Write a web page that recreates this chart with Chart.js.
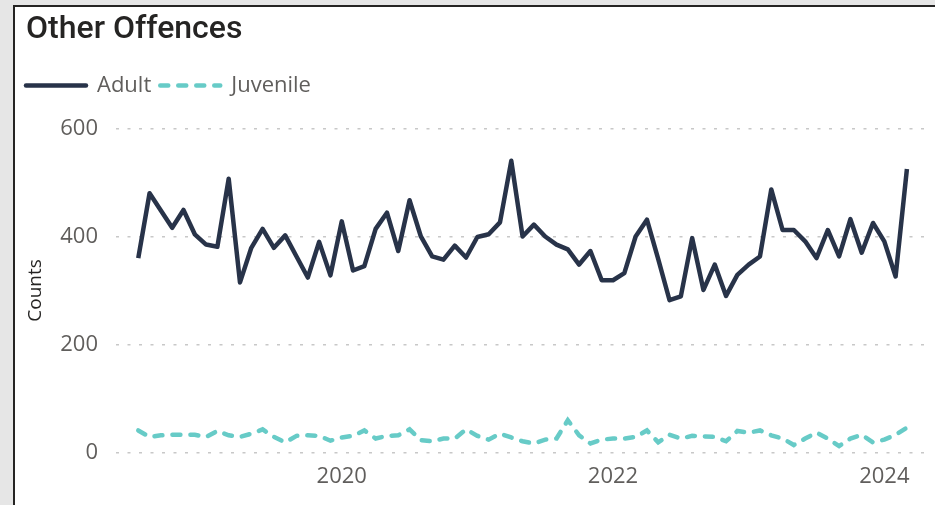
<!DOCTYPE html>
<html>
<head>
<meta charset="utf-8">
<title>Other Offences</title>
<script src="https://cdn.jsdelivr.net/npm/chart.js@4.4.1/dist/chart.umd.min.js"></script>
<style>
    html, body { margin: 0; padding: 0; background: #e6e6e6; overflow: hidden; }
    #card {
        position: absolute; left: 13px; top: 5px; width: 1000px; height: 1000px;
        background: #fff; border: 2px solid #252423;
    }
    #offencesChart { position: absolute; left: 0; top: 0; }
</style>
</head>
<body>
<div id="card"></div>
<canvas id="offencesChart" width="935" height="505"></canvas>
<script>
// Mois (juillet 2018 - mars 2024)
const months = [
    "2018-07", "2018-08", "2018-09", "2018-10", "2018-11", "2018-12",
    "2019-01", "2019-02", "2019-03", "2019-04", "2019-05", "2019-06",
    "2019-07", "2019-08", "2019-09", "2019-10", "2019-11", "2019-12",
    "2020-01", "2020-02", "2020-03", "2020-04", "2020-05", "2020-06",
    "2020-07", "2020-08", "2020-09", "2020-10", "2020-11", "2020-12",
    "2021-01", "2021-02", "2021-03", "2021-04", "2021-05", "2021-06",
    "2021-07", "2021-08", "2021-09", "2021-10", "2021-11", "2021-12",
    "2022-01", "2022-02", "2022-03", "2022-04", "2022-05", "2022-06",
    "2022-07", "2022-08", "2022-09", "2022-10", "2022-11", "2022-12",
    "2023-01", "2023-02", "2023-03", "2023-04", "2023-05", "2023-06",
    "2023-07", "2023-08", "2023-09", "2023-10", "2023-11", "2023-12",
    "2024-01", "2024-02", "2024-03",
];

const adult = [
    360, 480, 448, 416, 449, 404, 385, 381, 507, 315, 379, 414,
    379, 402, 363, 324, 390, 328, 428, 337, 345, 414, 444, 373,
    467, 400, 363, 357, 383, 361, 399, 404, 426, 540, 400, 422,
    400, 385, 376, 348, 373, 319, 319, 332, 400, 431, 358, 282,
    289, 397, 301, 348, 290, 329, 348, 363, 487, 412, 412, 391,
    360, 412, 363, 432, 370, 425, 391, 326, 525,
];

const juvenile = [
    41, 29, 32, 33, 33, 33, 29, 40, 32, 29, 35, 43,
    29, 19, 31, 32, 31, 22, 28, 31, 41, 26, 31, 32,
    43, 23, 21, 26, 26, 43, 31, 24, 35, 28, 21, 17,
    24, 26, 60, 32, 17, 24, 26, 26, 29, 41, 19, 33,
    26, 31, 30, 29, 21, 40, 37, 41, 32, 26, 14, 26,
    37, 26, 12, 26, 33, 19, 24, 33, 46,
];

// Graduations de l'axe X
const tickMonths = ["2020-01", "2022-01", "2024-01"];
const tickLabels = ["2020", "2022", "2024"];
const yTicks = [0, 200, 400, 600];

const toPoints = (values) => values.map((v, i) => ({ x: i, y: v }));

// Espacement sous la légende + alignement à gauche
const legendSpacing = {
    id: "legendSpacing",
    beforeInit(chart) {
        const fit = chart.legend.fit;
        chart.legend.fit = function () {
            fit.call(this);
            this.height += 22;
        };
    },
    afterLayout(chart) {
        chart.legend.left -= 9;
        chart.legend.right -= 9;
    },
};

Chart.defaults.font.family = "'Open Sans', sans-serif";
Chart.defaults.color = "#605E5C";

new Chart(document.getElementById("offencesChart"), {
    type: "line",
    data: {
        datasets: [{
            label: "Adult",
            data: toPoints(adult),
            borderColor: "#283349",
            backgroundColor: "#283349",
            borderWidth: 4.5,
            pointRadius: 0,
            tension: 0,
            borderJoinStyle: "round",
        }, {
            label: "Juvenile",
            data: toPoints(juvenile),
            borderColor: "#67CBC7",
            backgroundColor: "#67CBC7",
            borderWidth: 4.5,
            borderDash: [8, 10],
            borderCapStyle: "round",
            pointRadius: 0,
            tension: 0,
        }],
    },
    options: {
        responsive: false,
        animation: false,
        devicePixelRatio: 1,
        layout: { padding: { left: 26, right: 10, top: 11, bottom: 4 } },
        plugins: {
            title: {
                display: true,
                text: "Other Offences",
                align: "start",
                color: "#252423",
                font: { family: "Roboto", size: 32, weight: 500 },
                padding: { top: 0, bottom: 16 },
            },
            legend: {
                position: "top",
                align: "start",
                labels: {
                    usePointStyle: true,
                    pointStyle: "line",
                    pointStyleWidth: 60,
                    padding: 9,
                    color: "#605E5C",
                    font: { size: 22 },
                    generateLabels: (chart) =>
                        Chart.defaults.plugins.legend.labels.generateLabels(chart).map((item) => ({
                            ...item,
                            lineDash: chart.data.datasets[item.datasetIndex].borderDash || [],
                            lineCap: "round",
                        })),
                },
            },
            tooltip: { enabled: false },
        },
        scales: {
            x: {
                type: "linear",
                min: -1.97,
                max: 69.6,
                grid: { display: false, drawTicks: false },
                border: { display: false },
                afterBuildTicks: (scale) => {
                    scale.ticks = tickMonths.map(m => ({ value: months.indexOf(m) }));
                },
                ticks: {
                    padding: 11,
                    maxRotation: 0,
                    font: { size: 22 },
                    color: "#605E5C",
                    callback: (value) => tickLabels[tickMonths.indexOf(months[value])],
                },
            },
            y: {
                min: 0,
                max: 600,
                grid: { color: "#C8C8C8", lineWidth: 1.5, drawTicks: false },
                border: { display: false, dash: [3, 8.5] },
                afterBuildTicks: (scale) => {
                    scale.ticks = yTicks.map(v => ({ value: v }));
                },
                afterFit: (scale) => {
                    scale.width = 90;
                },
                ticks: {
                    padding: 18,
                    font: { size: 22 },
                    color: "#605E5C",
                },
                title: {
                    display: true,
                    text: "Counts",
                    color: "#252423",
                    font: { size: 19 },
                    padding: { top: -2, bottom: 4 },
                },
            },
        },
    },
    plugins: [legendSpacing],
});
</script>
</body>
</html>
